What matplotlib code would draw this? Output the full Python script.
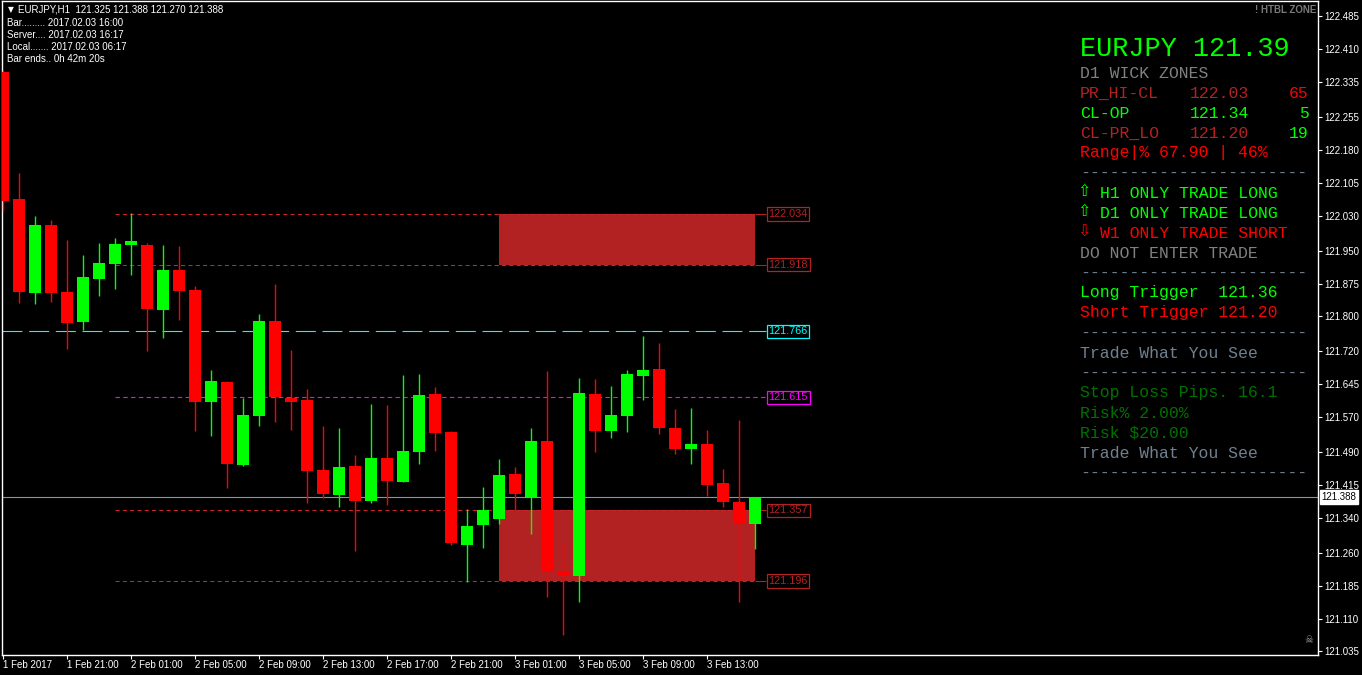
import matplotlib
matplotlib.use('Agg')
import matplotlib.pyplot as plt
from matplotlib.patches import Rectangle
import numpy as np
import pandas as pd

# ---------------- data ----------------
symbol = 'EURJPY'
timeframe = 'H1'
start_time = '2017-02-01 17:00'

opens = [122.358, 122.068, 121.854, 122.009, 121.856, 121.787, 121.886, 121.920,
         121.963, 121.963, 121.815, 121.906, 121.860, 121.605, 121.650, 121.461,
         121.573, 121.790, 121.614, 121.609, 121.450, 121.392, 121.459, 121.379,
         121.477, 121.422, 121.491, 121.623, 121.536, 121.278, 121.324, 121.338,
         121.440, 121.388, 121.516, 121.219, 121.208, 121.623, 121.539, 121.573,
         121.664, 121.680, 121.545, 121.497, 121.509, 121.420, 121.376, 121.325]
highs = [122.363, 122.128, 122.029, 122.020, 121.975, 121.940, 121.968, 121.979,
         122.036, 121.968, 121.963, 121.961, 121.870, 121.678, 121.653, 121.614,
         121.806, 121.874, 121.724, 121.634, 121.550, 121.545, 121.484, 121.600,
         121.598, 121.666, 121.669, 121.639, 121.539, 121.361, 121.411, 121.475,
         121.456, 121.545, 121.676, 121.283, 121.660, 121.657, 121.641, 121.678,
         121.755, 121.740, 121.589, 121.591, 121.541, 121.452, 121.564, 121.388]
lows = [122.041, 121.831, 121.829, 121.833, 121.726, 121.769, 121.847, 121.863,
        121.895, 121.721, 121.751, 121.792, 121.539, 121.527, 121.408, 121.459,
        121.550, 121.559, 121.541, 121.374, 121.386, 121.365, 121.265, 121.374,
        121.370, 121.422, 121.463, 121.493, 121.278, 121.194, 121.271, 121.326,
        121.358, 121.303, 121.160, 121.073, 121.148, 121.491, 121.523, 121.536,
        121.609, 121.532, 121.486, 121.463, 121.390, 121.365, 121.148, 121.270]
closes = [122.064, 121.856, 122.009, 121.854, 121.785, 121.890, 121.922, 121.966,
          121.972, 121.817, 121.906, 121.858, 121.605, 121.653, 121.463, 121.575,
          121.790, 121.616, 121.605, 121.447, 121.395, 121.456, 121.379, 121.477,
          121.424, 121.493, 121.621, 121.534, 121.283, 121.322, 121.358, 121.438,
          121.395, 121.516, 121.217, 121.208, 121.625, 121.539, 121.575, 121.669,
          121.678, 121.545, 121.497, 121.509, 121.415, 121.376, 121.325, 121.388]

upper_zone = [122.034, 121.918]
lower_zone = [121.357, 121.196]
cyan_level = 121.766
magenta_level = 121.615

price_ticks = [122.485, 122.410, 122.335, 122.255, 122.180, 122.105, 122.030,
               121.950, 121.875, 121.800, 121.720, 121.645, 121.570, 121.490,
               121.415, 121.340, 121.260, 121.185, 121.110, 121.035]
time_tick_labels = ['1 Feb 2017', '1 Feb 21:00', '2 Feb 01:00', '2 Feb 05:00',
                    '2 Feb 09:00', '2 Feb 13:00', '2 Feb 17:00', '2 Feb 21:00',
                    '3 Feb 01:00', '3 Feb 05:00', '3 Feb 09:00', '3 Feb 13:00']

header_lines = ['Bar......... 2017.02.03 16:00',
                'Server.... 2017.02.03 16:17',
                'Local....... 2017.02.03 06:17',
                'Bar ends.. 0h 42m 20s']

wick_names = ['PR_HI-CL', 'CL-OP', 'CL-PR_LO']
wick_prices = [122.03, 121.34, 121.20]
wick_pips = [65, 5, 19]
range_text = 'Range|% 67.90 | 46%'
trend_frames = ['H1', 'D1', 'W1']
trend_dirs = ['LONG', 'LONG', 'SHORT']
long_trigger = 121.36
short_trigger = 121.20
stop_loss_pips = 16.1
risk_pct = 2.00
risk_usd = 20.00

# ---------------- style ----------------
LIME = '#00ff00'
RED = '#ff0000'
FIRE = '#b22222'
LINE_RED = '#c8242c'
GRAY = '#808080'
SLATE = '#708090'
DGREEN = '#007000'
MONO = ['Liberation Mono', 'DejaVu Sans Mono', 'DejaVu Sans']
plt.rcParams['font.family'] = ['Liberation Sans', 'DejaVu Sans']

W, H = 1362, 675
fig = plt.figure(figsize=(W / 100, H / 100), dpi=100, facecolor='black')
ax_l, ax_r, ax_t, ax_b = 2, 1318, 1, 655
ax = fig.add_axes([ax_l / W, (H - ax_b) / H, (ax_r - ax_l) / W, (ax_b - ax_t) / H])
ax.set_facecolor('black')

px_per_bar = 16.0
first_px = 3.0
ax.set_xlim((ax_l - first_px) / px_per_bar, (ax_r - first_px) / px_per_bar)
ax.set_ylim(121.027, 122.520)

times = pd.date_range(start_time, periods=len(opens), freq='h')
n = len(opens)
x = np.arange(n)
O = np.array(opens); Hh = np.array(highs); L = np.array(lows); C = np.array(closes)
up = C >= O
cols = np.where(up, LIME, RED)

day2_idx = int(np.where(times == pd.Timestamp('2017-02-02 00:00'))[0][0])
day3_idx = int(np.where(times == pd.Timestamp('2017-02-03 00:00'))[0][0])
label_x = (n - 1) + 0.69

# zones
for top, bot in (upper_zone, lower_zone):
    ax.add_patch(Rectangle((day3_idx, bot), (n - 1) - day3_idx, top - bot,
                           facecolor=FIRE, edgecolor='none', zorder=1))

# levels
def level_label(val, color):
    ax.text(label_x + 0.15, val, f'{val:.3f}', color=color, fontsize=7.8,
            va='center', ha='left', zorder=6,
            bbox=dict(boxstyle='square,pad=0.15', fc='black', ec=color, lw=0.9))

for lv in upper_zone + lower_zone:
    ax.hlines(lv, day2_idx, n - 1, colors=LINE_RED, lw=0.75, linestyles=(0, (4, 3)), zorder=2)
    ax.hlines(lv, n - 1, label_x, colors=FIRE, lw=0.75, zorder=2)
    level_label(lv, FIRE)

ax.hlines(cyan_level, ax.get_xlim()[0], label_x, colors='#00ffff', lw=0.8,
          linestyles=(0, (18, 6)), zorder=2)
level_label(cyan_level, '#00ffff')
ax.hlines(magenta_level, day2_idx, label_x, colors='#ff00ff', lw=0.8,
          linestyles=(0, (4, 3)), zorder=2)
level_label(magenta_level, '#ff00ff')

ax.axhline(C[-1], color='#8595a8', lw=0.8, zorder=2)

# candles
ax.vlines(x, L, Hh, colors=cols, lw=1.0, zorder=3)
body_h = np.maximum(np.abs(C - O), 0.0025)
ax.bar(x, body_h, bottom=np.minimum(O, C), width=0.69, color=cols, lw=0, zorder=4)

# axes
for s in ax.spines.values():
    s.set_color('white'); s.set_linewidth(1.0)
ax.yaxis.tick_right()
ax.set_yticks(price_ticks)
ax.set_yticklabels([f'{v:.3f}' for v in price_ticks])
ax.tick_params(axis='y', colors='white', labelsize=7, length=3, width=0.8, pad=1.5)
xt = np.arange(len(time_tick_labels)) * 4
ax.set_xticks(xt)
ax.set_xticklabels(time_tick_labels, ha='left')
ax.tick_params(axis='x', colors='white', labelsize=7, length=3, width=0.8, pad=0.5)

ax.annotate(f'{C[-1]:.3f}', xy=(1.0, C[-1]), xycoords=('axes fraction', 'data'),
            xytext=(2.5, 0), textcoords='offset points', va='center', ha='left',
            fontsize=7, color='black', annotation_clip=False, zorder=10,
            bbox=dict(boxstyle='square,pad=0.2', fc='white', ec='white'))

# ---------------- overlay text ----------------
ov = fig.add_axes([0, 0, 1, 1], zorder=5)
ov.set_xlim(0, W); ov.set_ylim(H, 0); ov.axis('off'); ov.patch.set_alpha(0)

ov.text(10.5, 10, '▼', color='white', fontsize=5.5, va='center', ha='center',
        family=['DejaVu Sans'])
ov.text(18, 10, f'{symbol},{timeframe}  {O[-1]:.3f} {Hh[-1]:.3f} {L[-1]:.3f} {C[-1]:.3f}',
        color='white', fontsize=7, va='center', ha='left')
for k, line in enumerate(header_lines):
    ov.text(7, 23 + 12 * k, line, color='white', fontsize=7, va='center', ha='left')
ov.text(1316, 10, '! HTBL ZONE', color='#7a7a7a', fontsize=7, va='center', ha='right',
        fontweight='bold')
ov.text(1309, 640, '☠', color='#a0a0a0', fontsize=7, va='center', ha='center',
        family=['DejaVu Sans'])

px0 = 1080
cw = 9.95
fs = 11.9
def row_base(k):
    return 77.5 + 20 * k

def ptxt(col, k, s, color):
    ov.text(px0 + col * cw, row_base(k), s, color=color, fontsize=fs, family=MONO,
            va='baseline', ha='left')

ov.text(px0, 56.5, f'{symbol} {C[-1]:.2f}', color=LIME, fontsize=19.4, family=MONO,
        va='baseline', ha='left')
ptxt(0, 0, 'D1 WICK ZONES', GRAY)
name_cols = [FIRE, LIME, FIRE]
pip_cols = [RED, LIME, LIME]
for i in range(3):
    ptxt(0, 1 + i, wick_names[i], name_cols[i])
    ptxt(11, 1 + i, f'{wick_prices[i]:.2f}', name_cols[i])
    ov.text(px0 + 23 * cw, row_base(1 + i), str(wick_pips[i]), color=pip_cols[i],
            fontsize=fs, family=MONO, va='baseline', ha='right')
ptxt(0, 4, range_text, RED)
dash = '-' * 23
ptxt(0, 5, dash, SLATE)
for i in range(3):
    c = LIME if trend_dirs[i] == 'LONG' else RED
    arrow = '⇧' if trend_dirs[i] == 'LONG' else '⇩'
    ov.text(px0 + 4, row_base(6 + i) - 5.5, arrow, color=c, fontsize=11.5,
            family=['DejaVu Sans'], va='center', ha='center')
    ptxt(2, 6 + i, f'{trend_frames[i]} ONLY TRADE {trend_dirs[i]}', c)
ptxt(0, 9, 'DO NOT ENTER TRADE', GRAY)
ptxt(0, 10, dash, SLATE)
ptxt(0, 11, f'Long Trigger  {long_trigger:.2f}', LIME)
ptxt(0, 12, f'Short Trigger {short_trigger:.2f}', RED)
ptxt(0, 13, dash, SLATE)
ptxt(0, 14, 'Trade What You See', SLATE)
ptxt(0, 15, dash, SLATE)
ptxt(0, 16, f'Stop Loss Pips. {stop_loss_pips:.1f}', DGREEN)
ptxt(0, 17, f'Risk% {risk_pct:.2f}%', DGREEN)
ptxt(0, 18, f'Risk ${risk_usd:.2f}', DGREEN)
ptxt(0, 19, 'Trade What You See', SLATE)
ptxt(0, 20, dash, SLATE)

fig.savefig('out.png', dpi=100, facecolor='black')
